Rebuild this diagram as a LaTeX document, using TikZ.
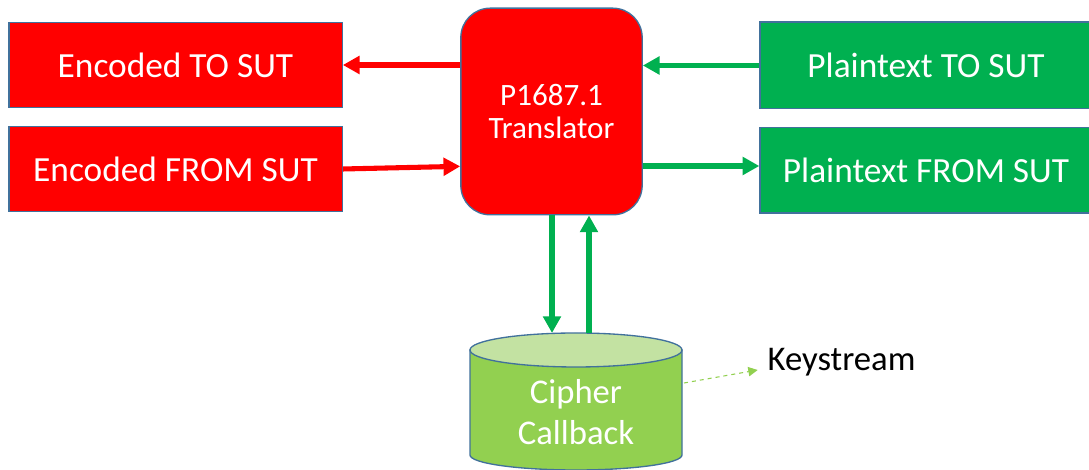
\documentclass[tikz,border=0pt]{standalone}
\usepackage{fontspec}
\setmainfont{Carlito}
\usetikzlibrary{arrows.meta}
\definecolor{boxred}{HTML}{FF0000}
\definecolor{boxgreen}{HTML}{00B050}
\definecolor{cylgreen}{HTML}{92D050}
\definecolor{cyltop}{HTML}{C3E2A2}
\definecolor{edgeblue}{HTML}{41719C}
\tikzset{
  redbox/.style={draw=edgeblue, line width=1pt, fill=boxred, text=white, font=\fontsize{26.5}{30}\selectfont},
  greenbox/.style={draw=edgeblue, line width=1pt, fill=boxgreen, text=white, font=\fontsize{26.5}{30}\selectfont},
  redarrow/.style={draw=boxred, line width=3.8pt, -{Triangle[length=12.5pt,width=13pt]}},
  greenarrow/.style={draw=boxgreen, line width=3.8pt, -{Triangle[length=12.5pt,width=13pt]}}
}

\begin{document}
\begin{tikzpicture}[x=0.75pt,y=0.75pt]
\clip (0,0) rectangle (1089,470);
\fill[white] (0,0) rectangle (1089,470);
% boxes on the left and right
\node[redbox, minimum width=250pt, minimum height=64pt] (encto) at (175.5,405) {Encoded TO SUT};
\node[redbox, minimum width=250pt, minimum height=64pt] (encfrom) at (175.5,301) {Encoded FROM SUT};
\node[greenbox, minimum width=255pt, minimum height=65pt] (plainto) at (930,404.5) {\hspace*{-6pt}Plaintext TO SUT};
\node[greenbox, minimum width=255pt, minimum height=64pt] (plainfrom) at (930,299.5) {\hspace*{-6pt}Plaintext FROM SUT};
% translator
\node[draw=edgeblue, line width=1pt, fill=boxred, rounded corners=22pt, minimum width=136pt, minimum height=155pt,
  text=white, align=center, font=\fontsize{23.3}{24.5}\selectfont] (trans) at (551.5,358.5) {P1687.1\\Translator};
% cipher callback cylinder
\filldraw[draw=edgeblue, line width=1pt, fill=cylgreen] (470,120) -- (470,15) arc[start angle=180, end angle=360, x radius=106, y radius=15] -- (682,120) -- cycle;
\filldraw[draw=edgeblue, line width=1pt, fill=cyltop] (576,120) ellipse[x radius=106, y radius=17];
\node[text=white, align=center, font=\fontsize{26}{31}\selectfont] (cipher) at (576,58) {Cipher\\Callback};
\coordinate (cyltopl) at (552,137);
\coordinate (cyltopr) at (589,137);
\coordinate (cylside) at (684,87);
\node[anchor=west, font=\fontsize{26}{30}\selectfont] (keys) at (763,108) {Keystream};
% connectors
\draw[redarrow] (trans.west |- encto.east) -- (encto.east);
\draw[redarrow] (encfrom.east) -- ([yshift=2pt]encfrom.east -| trans.west);
\draw[greenarrow] (plainto.west) -- (plainto.west -| trans.east);
\draw[greenarrow] (trans.east |- 0,304) -- (plainfrom.west |- 0,304);
\draw[greenarrow] (trans.south -| cyltopl) -- (cyltopl);
\draw[greenarrow] (cyltopr) -- (trans.south -| cyltopr);
\draw[cylgreen, line width=0.8pt, dashed, -{Triangle[length=7pt,width=7pt]}] (cylside) -- ([xshift=-4pt,yshift=-6pt]keys.west);
\end{tikzpicture}
\end{document}
